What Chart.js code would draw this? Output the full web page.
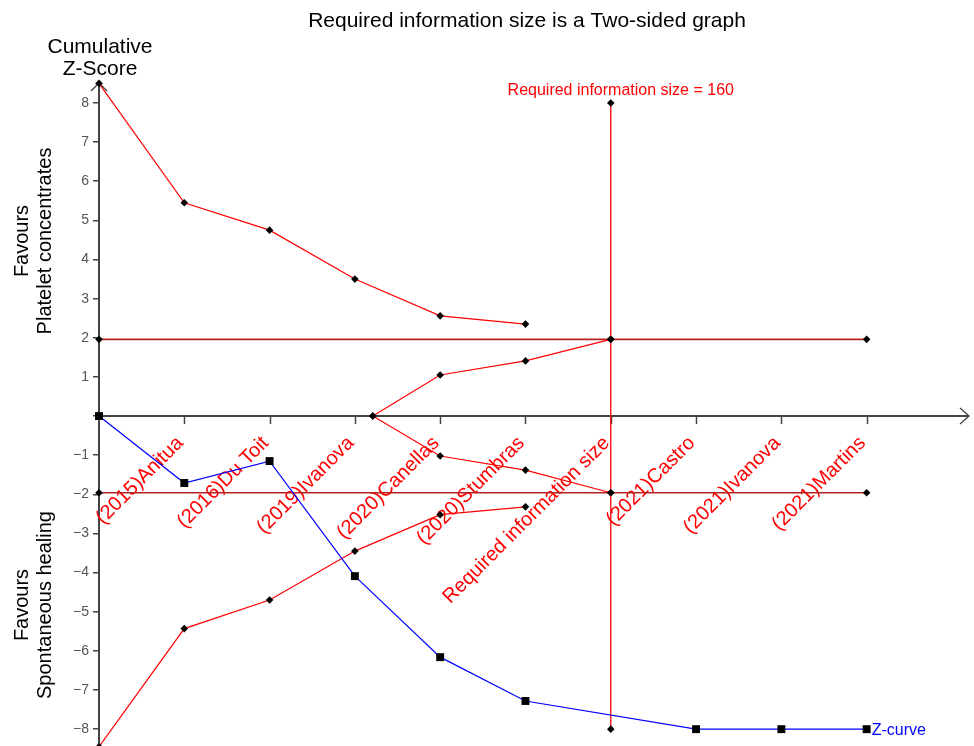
<!DOCTYPE html>
<html><head><meta charset="utf-8">
<script src="https://cdn.jsdelivr.net/npm/chart.js@4.4.1/dist/chart.umd.min.js"></script>
<style>html,body{margin:0;padding:0;background:#fff;overflow:hidden}</style>
</head><body>
<canvas id="c" width="974" height="746"></canvas>
<script>
// ---- data ----
const categories = ["", "(2015)Anitua", "(2016)Du Toit", "(2019)Ivanova", "(2020)Canellas", "(2020)Stumbras", "Required information size", "(2021)Castro", "(2021)Ivanova", "(2021)Martins"];
const categoryX = [0, 1, 2, 3, 4, 5, 6, 7, 8, 9];
const yTickValues = [-8, -7, -6, -5, -4, -3, -2, -1, 0, 1, 2, 3, 4, 5, 6, 7, 8];
const zCurveX = [0, 1, 2, 3, 4, 5, 7, 8, 9];
const zCurveY = [0, -1.71, -1.15, -4.09, -6.16, -7.28, -8, -8, -8];
const boundaryX = [0, 1, 2, 3, 4, 5];
const upperBoundaryY = [8.5, 5.45, 4.75, 3.5, 2.56, 2.35];
const lowerBoundaryY = [-8.45, -5.43, -4.70, -3.45, -2.52, -2.32];
const futilityX = [3.21, 4, 5, 6];
const futilityUpperY = [0, 1.05, 1.41, 1.96];
const futilityLowerY = [0, -1.02, -1.38, -1.96];
const conventionalX = [0, 6, 9];
const conventionalUpperY = [1.96, 1.96, 1.96];
const conventionalLowerY = [-1.96, -1.96, -1.96];
const risX = [6, 6];
const risY = [8, -8];
const risLabel = "Required information size = 160";
const zCurveLabel = "Z-curve";
const chartTitle = "Required information size is a Two-sided graph";
const yTitleTop = ["Cumulative", "Z-Score"];
const favoursUpper = ["Favours", "Platelet concentrates"];
const favoursLower = ["Favours", "Spontaneous healing"];

const pts = (xs, ys) => xs.map((x, i) => ({x: x, y: ys[i]}));
const FONT = '"Liberation Sans", Arial, sans-serif';
const RED = '#ff0000';
const DARKRED = '#b52222';
const AXIS = '#444444';

function lineDs(data, color, width, style, radius, ptColor) {
  return {
    data: data, borderColor: color, borderWidth: width, backgroundColor: color,
    pointStyle: style, pointRadius: radius, pointHoverRadius: radius,
    pointBackgroundColor: ptColor, pointBorderColor: ptColor, pointBorderWidth: 0,
    tension: 0, clip: false, showLine: true, fill: false
  };
}

const decor = {
  id: 'decor',
  beforeDatasetsDraw(chart) {
    const ctx = chart.ctx, xs = chart.scales.x, ys = chart.scales.y, ca = chart.chartArea;
    const y0 = ys.getPixelForValue(0);
    ctx.save();
    // x axis line at y = 0
    ctx.strokeStyle = AXIS; ctx.lineWidth = 2;
    ctx.beginPath(); ctx.moveTo(ca.left, y0); ctx.lineTo(ca.right, y0); ctx.stroke();
    // arrow right
    ctx.lineWidth = 1.3;
    ctx.beginPath(); ctx.moveTo(ca.right - 9, y0 - 8); ctx.lineTo(ca.right, y0); ctx.lineTo(ca.right - 9, y0 + 8); ctx.stroke();
    // arrow top
    const yTop = ca.top;
    ctx.beginPath(); ctx.moveTo(ca.left - 8, yTop + 8); ctx.lineTo(ca.left, yTop); ctx.lineTo(ca.left + 8, yTop + 8); ctx.stroke();
    // x ticks
    ctx.lineWidth = 1.5;
    for (let i = 1; i < categoryX.length; i++) {
      const px = Math.round(xs.getPixelForValue(categoryX[i])) + 0.5;
      ctx.beginPath(); ctx.moveTo(px, y0); ctx.lineTo(px, y0 + 8); ctx.stroke();
    }
    // category labels
    ctx.fillStyle = RED; ctx.font = '20px ' + FONT;
    ctx.textAlign = 'right'; ctx.textBaseline = 'middle';
    for (let i = 1; i < categories.length; i++) {
      const px = xs.getPixelForValue(categoryX[i]);
      ctx.save();
      ctx.translate(px - 4, y0 + 24);
      ctx.rotate(-Math.PI / 4);
      ctx.fillText(categories[i], 0, 0);
      ctx.restore();
    }
    ctx.restore();
  },
  afterDraw(chart) {
    const ctx = chart.ctx, xs = chart.scales.x, ys = chart.scales.y, ca = chart.chartArea;
    ctx.save();
    ctx.fillStyle = '#000'; ctx.textAlign = 'center'; ctx.textBaseline = 'middle';
    ctx.font = '21px ' + FONT;
    ctx.fillText(chartTitle, 527, 21);
    ctx.fillText(yTitleTop[0], 100, 47);
    ctx.fillText(yTitleTop[1], 100, 69);
    // rotated favours titles
    ctx.font = '20px ' + FONT;
    const rot = (lines, cy) => {
      ctx.save(); ctx.translate(0, cy); ctx.rotate(-Math.PI / 2);
      ctx.fillText(lines[0], 0, 22); ctx.fillText(lines[1], 0, 45);
      ctx.restore();
    };
    rot(favoursUpper, 241);
    rot(favoursLower, 605);
    // RIS label
    ctx.fillStyle = RED; ctx.font = '16px ' + FONT;
    ctx.fillText(risLabel, xs.getPixelForValue(risX[0]) + 10, ys.getPixelForValue(risY[0]) - 12);
    // Z-curve label
    ctx.fillStyle = '#0000ff'; ctx.textAlign = 'left';
    ctx.fillText(zCurveLabel, xs.getPixelForValue(zCurveX[zCurveX.length - 1]) + 5, ys.getPixelForValue(zCurveY[zCurveY.length - 1]) + 1);
    ctx.restore();
  }
};

new Chart(document.getElementById('c'), {
  type: 'line',
  data: {
    datasets: [
      lineDs(pts(zCurveX, zCurveY), '#0000ff', 1.2, 'rect', 5.6, '#000'),
      lineDs(pts(boundaryX, upperBoundaryY), RED, 1.2, 'rectRot', 3.8, '#000'),
      lineDs(pts(boundaryX, lowerBoundaryY), RED, 1.2, 'rectRot', 3.8, '#000'),
      lineDs(pts(futilityX, futilityUpperY), RED, 1.2, 'rectRot', 3.8, '#000'),
      lineDs(pts(futilityX, futilityLowerY), RED, 1.2, 'rectRot', 3.8, '#000'),
      lineDs(pts(risX, risY), RED, 1.3, 'rectRot', 3.8, '#000'),
      lineDs(pts(conventionalX, conventionalUpperY), DARKRED, 1.6, 'rectRot', 3.8, '#000'),
      lineDs(pts(conventionalX, conventionalLowerY), DARKRED, 1.6, 'rectRot', 3.8, '#000')
    ]
  },
  options: {
    responsive: false, animation: false, devicePixelRatio: 1,
    layout: {autoPadding: false, padding: {top: 83, right: 5, bottom: 0, left: 0}},
    plugins: {legend: {display: false}, tooltip: {enabled: false}, title: {display: false}},
    scales: {
      x: {type: 'linear', min: 0, max: 10.2, display: false},
      y: {
        type: 'linear', min: -8.43, max: 8.51,
        afterBuildTicks: s => { s.ticks = yTickValues.map(v => ({value: v})); },
        afterFit: s => { s.width = 99; s.paddingTop = 0; s.paddingBottom = 0; },
        ticks: {
          autoSkip: false, padding: 4, color: '#555555',
          font: {family: FONT, size: 14},
          callback: v => v === 0 ? '' : String(v).replace('-', '\u2212')
        },
        grid: {drawOnChartArea: false, drawTicks: true, tickLength: 6, color: AXIS, lineWidth: 1.5},
        border: {display: true, color: AXIS, width: 2}
      }
    }
  },
  plugins: [decor]
});
</script>
</body></html>
